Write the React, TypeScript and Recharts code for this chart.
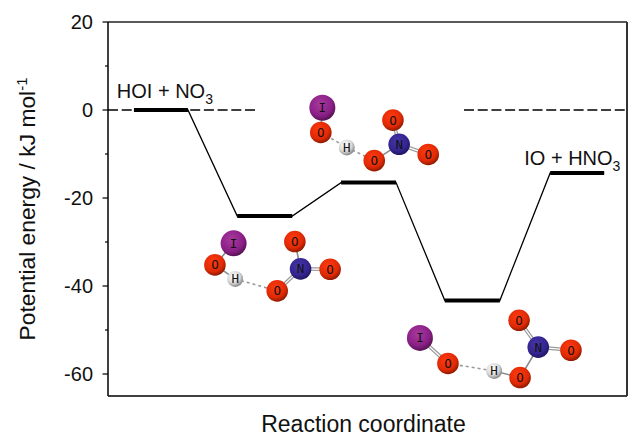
import React from "react";
import { ComposedChart, Line, Scatter, XAxis, YAxis, Label } from "recharts";

const FONT = "'Liberation Sans', Arial, sans-serif";

const yTicks = [-60, -50, -40, -30, -20, -10, 0, 10, 20];
const majorTicks = [-60, -40, -20, 0, 20];

const levelR = [{ x: 5, y: 0 }, { x: 15.4, y: 0 }];
const levelW1 = [{ x: 24.9, y: -24.1 }, { x: 35.5, y: -24.1 }];
const levelTS = [{ x: 44.9, y: -16.5 }, { x: 55.5, y: -16.5 }];
const levelW2 = [{ x: 64.9, y: -43.3 }, { x: 75.5, y: -43.3 }];
const levelP = [{ x: 85.2, y: -14.3 }, { x: 95.6, y: -14.3 }];
const levels = [levelR, levelW1, levelTS, levelW2, levelP];

const profile = [...levelR, ...levelW1, ...levelTS, ...levelW2, ...levelP];
const dashLeft = [{ x: 0, y: 0 }, { x: 28.5, y: 0 }];
const dashRight = [{ x: 68.6, y: 0 }, { x: 100, y: 0 }];

type Atom = { x: number; y: number; el: string };
const mol1: Atom[] = [
  { x: 41.3, y: 0.5, el: "I" },
  { x: 41.0, y: -5.1, el: "O" },
  { x: 46.0, y: -8.5, el: "H" },
  { x: 51.3, y: -11.5, el: "O" },
  { x: 56.1, y: -7.8, el: "N" },
  { x: 54.9, y: -2.3, el: "O" },
  { x: 61.7, y: -10.1, el: "O" },
];
const mol2: Atom[] = [
  { x: 24.2, y: -30.3, el: "I" },
  { x: 20.6, y: -35.2, el: "O" },
  { x: 24.5, y: -38.4, el: "H" },
  { x: 32.6, y: -41.1, el: "O" },
  { x: 37.1, y: -36.1, el: "N" },
  { x: 36.0, y: -29.9, el: "O" },
  { x: 42.8, y: -36.2, el: "O" },
];
const mol3: Atom[] = [
  { x: 60.1, y: -51.8, el: "I" },
  { x: 65.5, y: -57.6, el: "O" },
  { x: 74.4, y: -59.3, el: "H" },
  { x: 79.4, y: -60.8, el: "O" },
  { x: 82.9, y: -53.9, el: "N" },
  { x: 79.2, y: -47.8, el: "O" },
  { x: 89.2, y: -54.6, el: "O" },
];
const molecules = [mol1, mol2, mol3];

const singleBonds: Record<number, number[][]> = {
  0: [[0, 1], [3, 4]],
  1: [[0, 1], [1, 2], [4, 5]],
  2: [[2, 3], [3, 4]],
};
const doubleBonds: Record<number, number[][]> = {
  0: [[4, 5], [4, 6]],
  1: [[3, 4], [4, 6]],
  2: [[0, 1], [4, 5], [4, 6]],
};
const dashedBonds: Record<number, number[][]> = {
  0: [[1, 2], [2, 3]],
  1: [[2, 3]],
  2: [[1, 2]],
};

const labels = [
  { x: 1.7, y: 2.8, text: "HOI + NO", sub: "3" },
  { x: 80.2, y: -12.5, text: "IO + HNO", sub: "3" },
];

const radius: Record<string, number> = { I: 13, O: 10.8, H: 8, N: 10.8 };
const gradientOf: Record<string, string> = { I: "gI", O: "gO", H: "gH", N: "gN" };

const AtomShape = (p: any) => {
  const { cx, cy, payload } = p;
  const el = payload.el as string;
  return (
    <g>
      <circle cx={cx} cy={cy} r={radius[el]} fill={`url(#${gradientOf[el]})`} />
      <text
        x={cx}
        y={cy + 4.5}
        textAnchor="middle"
        fontFamily="'DejaVu Sans Mono', monospace"
        fontSize={12.5}
        fill="#111"
      >
        {el}
      </text>
    </g>
  );
};

const LabelShape = (p: any) => {
  const { cx, cy, payload } = p;
  return (
    <text x={cx} y={cy} fontFamily={FONT} fontSize={20} fill="#111">
      {payload.text}
      <tspan fontSize={14} dy={6}>
        {payload.sub}
      </tspan>
    </text>
  );
};

const LeftTick = (p: any) => {
  const { y, payload } = p;
  const major = majorTicks.includes(payload.value);
  return (
    <g>
      <line x1={108} x2={major ? 102.5 : 105} y1={y} y2={y} stroke="#000" strokeWidth={1.2} />
      {major && (
        <text x={93} y={y + 7} textAnchor="end" fontFamily={FONT} fontSize={20} fill="#111">
          {payload.value}
        </text>
      )}
    </g>
  );
};

const RightTick = (p: any) => {
  const { y } = p;
  return <line x1={627} x2={630} y1={y} y2={y} stroke="#000" strokeWidth={1.2} />;
};

const YTitle = () => (
  <text
    transform="translate(35,209) rotate(-90)"
    textAnchor="middle"
    fontFamily={FONT}
    fontSize={22.8}
    fill="#111"
  >
    Potential energy / kJ mol
    <tspan fontSize={15} dy={-8}>
      -1
    </tspan>
  </text>
);

const XTitle = () => (
  <text x={363.5} y={432} textAnchor="middle" fontFamily={FONT} fontSize={23} fill="#111">
    Reaction coordinate
  </text>
);

export default function App() {
  return (
    <div style={{ position: "absolute", left: 0, top: 0, width: 630, height: 437 }}>
      <ComposedChart
        width={630}
        height={437}
        margin={{ top: 21, right: 2, bottom: 40, left: 107 }}
      >
        <defs>
          <radialGradient id="gO" cx="42%" cy="35%" r="70%">
            <stop offset="0%" stopColor="#ff3a10" />
            <stop offset="65%" stopColor="#e02a05" />
            <stop offset="100%" stopColor="#7a1500" />
          </radialGradient>
          <radialGradient id="gI" cx="42%" cy="35%" r="70%">
            <stop offset="0%" stopColor="#a83a9e" />
            <stop offset="65%" stopColor="#8a1f86" />
            <stop offset="100%" stopColor="#4a0f48" />
          </radialGradient>
          <radialGradient id="gN" cx="42%" cy="35%" r="70%">
            <stop offset="0%" stopColor="#4536a8" />
            <stop offset="65%" stopColor="#33248f" />
            <stop offset="100%" stopColor="#1a1255" />
          </radialGradient>
          <radialGradient id="gH" cx="40%" cy="35%" r="75%">
            <stop offset="0%" stopColor="#ffffff" />
            <stop offset="55%" stopColor="#d8d8d8" />
            <stop offset="100%" stopColor="#666666" />
          </radialGradient>
        </defs>
        <XAxis xAxisId={0} type="number" dataKey="x" domain={[0, 100]} height={1} tick={false} tickLine={false} stroke="#000" strokeWidth={1.5}>
          <Label content={<XTitle />} />
        </XAxis>
        <XAxis xAxisId="top" orientation="top" type="number" domain={[0, 100]} height={1} tick={false} tickLine={false} stroke="#222" strokeWidth={1.5} />
        <YAxis yAxisId={0} type="number" domain={[-65, 20]} ticks={yTicks} interval={0} width={1} tick={<LeftTick />} tickLine={false} stroke="#000" strokeWidth={1.5}>
          <Label content={<YTitle />} />
        </YAxis>
        <YAxis yAxisId="right" orientation="right" type="number" domain={[-65, 20]} ticks={yTicks} interval={0} width={1} tick={<RightTick />} tickLine={false} stroke="#333" strokeWidth={2} />

        <Line data={dashLeft} dataKey="y" stroke="#000" strokeWidth={1.7} strokeDasharray="10 3.7" dot={false} isAnimationActive={false} />
        <Line data={dashRight} dataKey="y" stroke="#000" strokeWidth={1.7} strokeDasharray="10 3.7" dot={false} isAnimationActive={false} />
        <Line data={profile} dataKey="y" stroke="#000" strokeWidth={1.3} dot={false} isAnimationActive={false} />
        {levels.map((lv, i) => (
          <Line key={`lv${i}`} data={lv} dataKey="y" stroke="#000" strokeWidth={4} dot={false} isAnimationActive={false} />
        ))}
        {molecules.map((m, mi) =>
          singleBonds[mi].map(([a, b]) => (
            <Line key={`s${mi}-${a}-${b}`} data={[m[a], m[b]]} dataKey="y" stroke="#8a8a8a" strokeWidth={1.6} dot={false} isAnimationActive={false} />
          ))
        )}
        {molecules.map((m, mi) =>
          doubleBonds[mi].map(([a, b]) => (
            <Line key={`dg${mi}-${a}-${b}`} data={[m[a], m[b]]} dataKey="y" stroke="#9a9a9a" strokeWidth={3.6} dot={false} isAnimationActive={false} />
          ))
        )}
        {molecules.map((m, mi) =>
          doubleBonds[mi].map(([a, b]) => (
            <Line key={`dw${mi}-${a}-${b}`} data={[m[a], m[b]]} dataKey="y" stroke="#ffffff" strokeWidth={1.2} dot={false} isAnimationActive={false} />
          ))
        )}
        {molecules.map((m, mi) =>
          dashedBonds[mi].map(([a, b]) => (
            <Line key={`d${mi}-${a}-${b}`} data={[m[a], m[b]]} dataKey="y" stroke="#999" strokeWidth={1.6} strokeDasharray="3 3" dot={false} isAnimationActive={false} />
          ))
        )}
        {molecules.map((m, mi) => (
          <Scatter key={`m${mi}`} data={m} dataKey="y" shape={<AtomShape />} isAnimationActive={false} />
        ))}
        <Scatter data={labels} dataKey="y" shape={<LabelShape />} isAnimationActive={false} />
      </ComposedChart>
    </div>
  );
}
